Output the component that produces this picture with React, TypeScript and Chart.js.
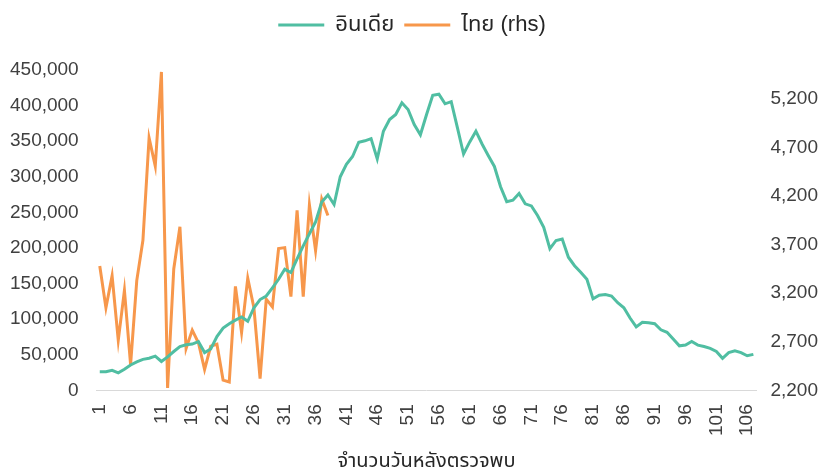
import { useEffect, useRef } from "react";
import { Chart, registerables } from "chart.js";
Chart.register(...registerables);

const days: string[] = Array.from({ length: 107 }, (_, i) => String(i + 1));

const indiaCases = [
  26000, 26000, 28000, 24500, 29500, 35500, 40000, 43500, 45000, 48000,
  40500, 47000, 54500, 61500, 64000, 65000, 68500, 53000, 58000, 75500,
  87500, 93500, 98500, 103000, 97000, 116000, 127500, 132500, 144000, 156000,
  170000, 165500, 184500, 203000, 220000, 236500, 264500, 274500, 261000, 300000,
  317500, 328500, 348500, 350500, 353500, 325000, 364000, 380500, 387500, 404000,
  394500, 373500, 359000, 387500, 414500, 416000, 402500, 405500, 369000, 332000,
  349000, 364000, 346000, 330000, 314500, 286000, 265000, 267000, 276500, 262000,
  259000, 245500, 229000, 199000, 210500, 212500, 187000, 175000, 166000, 156000,
  128500, 133500, 134500, 132500, 123000, 116000, 101500, 89000, 95500, 95000,
  93500, 85000, 81500, 72000, 62500, 63500, 68500, 63500, 61500, 59000,
  54500, 45000, 53000, 55500, 53000, 48500, 50500,
];

const thaiCases = [
  3480, 3050, 3380, 2715, 3230, 2465, 3330, 3745, 4800, 4510,
  5480, 2225, 3450, 3885, 2630, 2820, 2690, 2415, 2655, 2675,
  2305, 2285, 3270, 2795, 3355, 3050, 2320, 3140, 3060, 3660,
  3670, 3165, 4055, 3165, 4110, 3640, 4170, 4000,
];

const leftTicks = [0, 50000, 100000, 150000, 200000, 250000, 300000, 350000, 400000, 450000];
const rightTicks = [2200, 2700, 3200, 3700, 4200, 4700, 5200];

const FONT = "'Liberation Sans', 'Noto Sans Thai', 'Noto Sans', sans-serif";
const TEXT = "#404040";

const legendSpacer = {
  id: "legendSpacer",
  beforeInit(chart: any) {
    const fit = chart.legend.fit;
    chart.legend.fit = function () {
      fit.call(this);
      this.height += 24;
    };
  },
};

export default function App() {
  const ref = useRef<HTMLCanvasElement | null>(null);
  useEffect(() => {
    document.body.style.margin = "0";
    const canvas = ref.current;
    if (!canvas) return;
    const chart = new Chart(canvas, {
      type: "line",
      plugins: [legendSpacer],
      data: {
        labels: days,
        datasets: [
          {
            label: "อินเดีย",
            data: indiaCases,
            borderColor: "#50bea2",
            backgroundColor: "#50bea2",
            borderWidth: 3,
            pointRadius: 0,
            tension: 0,
            yAxisID: "y",
          },
          {
            label: "ไทย (rhs)",
            data: thaiCases,
            borderColor: "#f7974b",
            backgroundColor: "#f7974b",
            borderWidth: 3,
            pointRadius: 0,
            tension: 0,
            yAxisID: "y1",
          },
        ],
      },
      options: {
        animation: false,
        responsive: false,
        maintainAspectRatio: false,
        layout: { padding: { top: 4, left: 0, right: 0, bottom: 0 } },
        plugins: {
          tooltip: { enabled: false },
          legend: {
            position: "top",
            labels: {
              color: "#262626",
              font: { family: FONT, size: 22 },
              boxWidth: 46,
              boxHeight: 3,
              padding: 10,
              generateLabels: (c: any) =>
                (Chart.defaults.plugins.legend.labels as any)
                  .generateLabels(c)
                  .map((l: any) => ({ ...l, lineWidth: 0 })),
            },
          },
        },
        scales: {
          x: {
            offset: true,
            grid: { display: false, offset: true },
            border: { display: true, color: "#d9d9d9", width: 1 },
            ticks: {
              color: TEXT,
              font: { family: FONT, size: 19 },
              autoSkip: false,
              minRotation: 90,
              maxRotation: 90,
              padding: 6,
              callback: (_v: any, i: number) => (i % 5 === 0 ? days[i] : ""),
            },
            title: {
              display: true,
              text: "จำนวนวันหลังตรวจพบ",
              color: "#262626",
              font: { family: FONT, size: 20, lineHeight: 1 },
              padding: { top: 9, bottom: 0 },
            },
          },
          y: {
            position: "left",
            min: 0,
            max: 450000,
            grid: { display: false },
            border: { display: false },
            afterBuildTicks: (axis: any) => {
              axis.ticks = leftTicks.map((v) => ({ value: v }));
            },
            ticks: {
              color: TEXT,
              font: { family: FONT, size: 19 },
              padding: 10,
              callback: (v: any) => Number(v).toLocaleString("en-US"),
            },
          },
          y1: {
            position: "right",
            min: 2200,
            max: 5500,
            grid: { display: false },
            border: { display: false },
            afterBuildTicks: (axis: any) => {
              axis.ticks = rightTicks.map((v) => ({ value: v }));
            },
            ticks: {
              color: TEXT,
              font: { family: FONT, size: 19 },
              padding: 6,
              callback: (v: any) => Number(v).toLocaleString("en-US"),
            },
          },
        },
      },
    });
    return () => chart.destroy();
  }, []);
  return (
    <div style={{ width: 824, height: 471 }}>
      <canvas ref={ref} width={824} height={471} style={{ width: 824, height: 471 }} />
    </div>
  );
}
